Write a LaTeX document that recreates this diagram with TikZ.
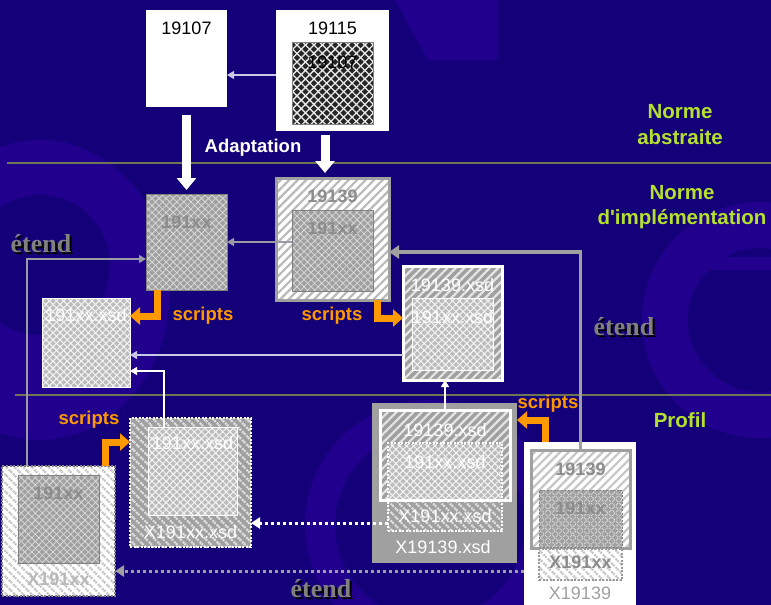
\documentclass[tikz,border=0pt]{standalone}
\usepackage{fontspec}
\setmainfont{Liberation Sans}[Ligatures=TeXOff]
\newfontfamily\seriffont{Liberation Serif}
\usetikzlibrary{arrows.meta,patterns.meta,calc}
\definecolor{bg}{RGB}{20,0,120}
\definecolor{bgl}{RGB}{32,0,140}
\definecolor{rulec}{RGB}{110,118,84}
\definecolor{lime}{RGB}{180,225,45}
\definecolor{orng}{RGB}{255,153,0}
\definecolor{gbox}{RGB}{160,160,160}
\definecolor{gtext}{RGB}{140,140,140}
\definecolor{gline}{RGB}{155,155,165}
\definecolor{lav}{RGB}{200,200,230}
\definecolor{lgray}{RGB}{188,188,188}
\newcommand{\shadowed}[1]{\makebox[0pt][l]{\hspace{2pt}\raisebox{-2pt}{\color{black}#1}}#1}
\begin{document}
\begin{tikzpicture}[x=1pt,y=-1pt,
  box/.style={rectangle,inner sep=0pt,outer sep=0pt},
  latG/.style={preaction={fill=gbox},
    preaction={pattern={Lines[angle=45,distance=5pt,line width=0.8pt]},pattern color=white!70!gray},
    preaction={pattern={Lines[angle=-45,distance=5pt,line width=0.8pt]},pattern color=white!70!gray}},
  latL/.style={preaction={fill=lgray},
    preaction={pattern={Lines[angle=45,distance=5pt,line width=1pt]},pattern color=white!92!gray},
    preaction={pattern={Lines[angle=-45,distance=5pt,line width=1pt]},pattern color=white!92!gray}},
  latD/.style={preaction={fill=black!85},
    preaction={pattern={Lines[angle=45,distance=6pt,line width=1.3pt]},pattern color=white!85!gray},
    preaction={pattern={Lines[angle=-45,distance=6pt,line width=1.3pt]},pattern color=white!85!gray}},
  strNE/.style 2 args={preaction={fill=#1},
    preaction={pattern={Lines[angle=45,distance=6pt,line width=2.2pt]},pattern color=#2}},
  strNW/.style 2 args={preaction={fill=#1},
    preaction={pattern={Lines[angle=-45,distance=6pt,line width=2.2pt]},pattern color=#2}},
  dotb/.style={draw=#1,line width=2pt,dash pattern=on 2pt off 1.5pt},
  num/.style={inner sep=0pt,font=\fontsize{18}{20}\selectfont,text=black},
  wt/.style={inner sep=0pt,font=\fontsize{18}{20}\selectfont,text=white},
  gb/.style={inner sep=0pt,font=\fontsize{18}{20}\selectfont\bfseries,text=#1},
  lab/.style={inner sep=0pt,font=\fontsize{20.5}{22}\selectfont\bfseries,text=lime},
  scr/.style={inner sep=0pt,font=\fontsize{18.5}{20}\selectfont\bfseries,text=orng},
  etd/.style={inner sep=0pt,font=\fontsize{26}{28}\selectfont\seriffont\bfseries,text=gray},
  thinA/.style={draw=#1,line width=1.2pt,-{Triangle[width=8pt,length=7pt]}},
  bigA/.style={draw=white,line width=9pt,-{Triangle[width=19pt,length=12pt]}},
  orA/.style={draw=orng,line width=7pt,line join=miter,-{Triangle[width=17pt,length=10pt]}},
  etA/.style={draw=gbox,line width=3.5pt,-{Triangle[width=13pt,length=10pt]}},
  dotA/.style={draw=#1,line width=3pt,dash pattern=on 3pt off 3pt,-{Triangle[width=11pt,length=9pt]}}
]
\useasboundingbox (0,0) rectangle (771,605);
% background
\fill[bg] (0,0) rectangle (771,605);
\fill[bgl] (395,0) -- (497,0) -- (497,60) -- (428,60) -- cycle;
\begin{scope}
\clip (0,0) rectangle (771,605);
\fill[bgl,even odd rule] (40,290) ellipse [x radius=130, y radius=150] (40,265) circle [radius=70];
\fill[bgl,even odd rule] (760,320) circle [radius=118] (760,320) circle [radius=72];
\fill[bgl] (690,257) rectangle (771,270);
\fill[bgl,even odd rule] (430,525) circle [radius=125] (430,525) circle [radius=95];
\end{scope}
% rules
\draw[rulec,line width=2pt] (7,163) -- (771,163);
\draw[rulec,line width=2pt] (15,394.5) -- (771,394.5);
% labels right
\node[lab] at (680,112) {Norme};
\node[lab] at (680,137) {abstraite};
\node[lab] at (682,193) {Norme};
\node[lab] at (682,219) {d'implémentation};
\node[lab] at (680,420) {Profil};
% top boxes
\node[box,fill=white,minimum width=81pt,minimum height=97pt] (b19107) at (186.5,58.5) {};
\node[num] at (186.5,28) {19107};
\node[box,fill=white,minimum width=113pt,minimum height=121pt] (b19115) at (332.5,70.5) {};
\node[num] at (332.5,28) {19115};
\node[box,latD,draw=gray,line width=0.8pt,minimum width=81pt,minimum height=82pt] (b19115in) at (332.5,83) {};
\node[num] at (332.5,62) {19107};
\node[inner sep=0pt,font=\fontsize{18.5}{20}\selectfont\bfseries,text=white] at (253,148) {Adaptation};
% implementation level
\node[box,latG,draw=gray,line width=1pt,minimum width=81pt,minimum height=96pt] (b141) at (186.5,242) {};
\node[gb=gtext] at (186.5,222) {191xx};
\node[box,strNE={white}{gray!55},draw=gbox,line width=3pt,minimum width=113pt,minimum height=122pt] (b19139) at (332.5,239) {};
\node[gb=gtext] at (332.5,196) {19139};
\node[box,latG,draw=gray,line width=1pt,minimum width=81pt,minimum height=81pt] (b181) at (332.5,250.5) {};
\node[gb=gtext] at (332.5,228) {191xx};
\node[box,latL,draw=white,line width=1pt,minimum width=88pt,minimum height=89pt] (bxsd) at (86,342.5) {};
\node[wt] at (86,315) {191xx.xsd};
\node[box,strNE={gbox}{white!80!gray},draw=white,line width=3pt,minimum width=99pt,minimum height=114pt] (b19xsd) at (452.5,323) {};
\node[wt] at (452.5,285) {19139.xsd};
\node[box,latL,draw=white,line width=1pt,minimum width=81pt,minimum height=72pt] (b19xsdin) at (452.5,334) {};
\node[wt] at (452.5,317) {191xx.xsd};
% profile level
\node[box,strNW={gbox}{white!75!gray},dotb=white,minimum width=121pt,minimum height=129pt] (bXxsd) at (190.5,482.5) {};
\node[box,latL,draw=white,line width=1pt,minimum width=89pt,minimum height=88pt] (bXxsdin) at (192.5,471) {};
\node[wt] at (192.5,443) {191xx.xsd};
\node[wt] at (190.5,532) {X191xx.xsd};
\node[box,strNW={white}{gray!45},dotb=gray,minimum width=113pt,minimum height=130pt] (bX191) at (58.5,531) {};
\node[box,latG,draw=gray,line width=1pt,minimum width=81pt,minimum height=88pt] (bX191in) at (58.5,519) {};
\node[gb=gtext] at (58.5,493) {191xx};
\node[gb=gray!55] at (58.5,579) {X191xx};
\node[box,fill=gbox,minimum width=145pt,minimum height=160pt] (bXo) at (444.5,483) {};
\node[box,strNE={gbox}{white!80!gray},draw=white,line width=3pt,minimum width=130pt,minimum height=90pt] (bX19xsd) at (445,455) {};
\node[wt] at (445,430) {19139.xsd};
\node[box,strNW={gbox}{white!75!gray},dotb=white,minimum width=114pt,minimum height=88pt] (bsmall) at (445,487) {};
\node[box,latL,minimum width=112pt,minimum height=55pt] (bsmallin) at (445,472) {};
\draw[white,line width=3pt] (bX19xsd.south west) -- (bX19xsd.south east);
\node[wt] at (445,462) {191xx.xsd};
\node[wt] at (445,516) {X191xx.xsd};
\node[wt] at (443,547) {X19139.xsd};
\node[box,fill=white,minimum width=112pt,minimum height=163pt] (bX139) at (580,523.5) {};
\node[box,strNE={white}{gray!45},draw=gbox,line width=3pt,minimum width=99pt,minimum height=98pt] (bXin) at (580.5,499) {};
\node[gb=gtext] at (580.5,469) {19139};
\node[box,latG,draw=gray,line width=1pt,dash pattern=on 2pt off 1.5pt,minimum width=83pt,minimum height=57pt] (bXin181) at (580.5,518.5) {};
\node[gb=gtext] at (580.5,508) {191xx};
\node[box,strNW={white}{gray!45},dotb=gray!80,minimum width=83pt,minimum height=31pt] (bXsm) at (580.5,564.5) {};
\node[gb=gtext] at (580.5,562) {X191xx};
\node[inner sep=0pt,font=\fontsize{18}{20}\selectfont,text=gbox] at (580,593) {X19139};
% connectors
\draw[thinA=lav] ([yshift=-4.5pt]b19115.west) -- ([yshift=-4.5pt]b19115.west -| b19107.east);
\draw[bigA] ([yshift=-8pt]b19107.south) -- ([yshift=4pt]b141.north);
\draw[bigA] ([xshift=-7.5pt,yshift=-4pt]b19115.south) -- ([xshift=-7.5pt,yshift=5pt]b19139.north);
\draw[thinA=gline] (b181.west |- b141.east) -- (b141.east);
\draw[etA] (bXin.north) |- ([yshift=-13pt]b19139.east);
\draw[thinA=gline] ([xshift=-31.5pt]bX191.north) |- ([yshift=-17pt]b141.west);
\draw[orA] ([xshift=-29.5pt]b141.south) |- ([yshift=26.5pt]bxsd.east);
\draw[orA] ([xshift=44.5pt]b19139.south) |- ([yshift=5pt]b19xsd.west);
\draw[thinA=lav] ([yshift=-32pt]b19xsd.west) -- ([yshift=-32pt]b19xsd.west -| bxsd.east);
\draw[thinA=white] ([xshift=-28.5pt]bXxsdin.north) |- ([yshift=-28.5pt]bxsd.east);
\draw[thinA=white] (bX19xsd.north) -- (bX19xsd.north |- b19xsd.south);
\draw[orA] ([xshift=-35pt]bX139.north) |- ([yshift=63pt]bXo.east);
\draw[orA] ([xshift=46.5pt]bX191.north) |- ([yshift=40.5pt]bXxsd.west);
\draw[dotA=white] ([yshift=-36pt]bsmall.west) -- ([yshift=-36pt]bsmall.west -| bXxsd.east);
\draw[dotA=gbox] ([yshift=-47.5pt]bX139.west) -- ([yshift=-47.5pt]bX139.west -| bX191.east);
% scripts labels
\node[scr] at (203,316) {scripts};
\node[scr] at (332,316) {scripts};
\node[scr] at (89,420) {scripts};
\node[scr] at (548,404) {scripts};
% etend labels
\node[etd] at (41,245) {\shadowed{étend}};
\node[etd] at (624,328) {\shadowed{étend}};
\node[etd] at (321,590) {\shadowed{étend}};
\end{tikzpicture}
\end{document}
